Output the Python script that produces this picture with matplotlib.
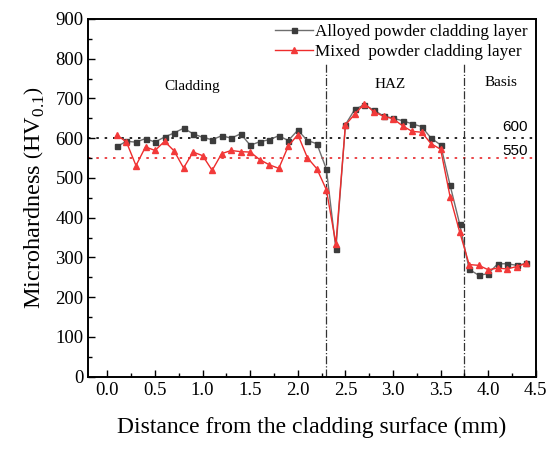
import numpy as np
import matplotlib
matplotlib.use("Agg")
import matplotlib.pyplot as plt
from matplotlib.ticker import MultipleLocator

# measured microhardness profiles, sampled every 0.1 mm from the surface
depth = np.round(np.arange(0.1, 4.45, 0.1), 2)
alloyed = [579, 592, 590, 599, 590, 603, 613, 625, 611, 602,
           596, 606, 600, 611, 582, 591, 596, 606, 594, 620,
           594, 586, 522, 321, 634, 673, 684, 670, 656, 650,
           644, 636, 629, 600, 583, 481, 384, 270, 255, 259,
           284, 284, 280, 285]
mixed = [608, 590, 531, 578, 569, 592, 568, 525, 565, 556,
         519, 561, 569, 566, 565, 546, 533, 524, 580, 609,
         551, 523, 470, 334, 633, 661, 687, 666, 655, 649,
         631, 617, 615, 586, 572, 452, 364, 282, 280, 269,
         273, 271, 277, 285]

zone_bounds = [2.3, 3.75]
zone_names = ["Cladding", "HAZ", "Basis"]
zone_label_x = [0.89, 2.97, 4.13]
zone_label_y = [729, 734, 740]
ref_levels = [600, 550]
ref_colors = ["black", "#e8262a"]
ref_label_y = [628, 568]

serif = ["Liberation Serif", "DejaVu Serif"]
plt.rcParams["font.family"] = serif
plt.rcParams["mathtext.fontset"] = "custom"
plt.rcParams["mathtext.rm"] = "Liberation Serif"

fig = plt.figure(figsize=(5.49, 4.5), dpi=100)
ax = fig.add_axes([0.161, 0.163, 0.815, 0.795])

ax.plot(depth, alloyed, color="#6e6e6e", lw=1.0, marker="s", ms=3.6,
        mfc="#3c3c3c", mec="#3c3c3c", label="Alloyed powder cladding layer", zorder=3)
ax.plot(depth, mixed, color="#ee2c2c", lw=1.0, marker="^", ms=5,
        mfc="#f23a3a", mec="#f23a3a", label="Mixed  powder cladding layer", zorder=4)

# reference hardness levels
for lvl, c, ty in zip(ref_levels, ref_colors, ref_label_y):
    ax.axhline(lvl, color=c, ls=(0, (1.5, 3.5)), lw=1.2, zorder=1)
    ax.text(4.28, ty, str(lvl), fontsize=11, family="Liberation Sans",
            ha="center", va="center")

# zone boundaries
for xb in zone_bounds:
    ax.plot([xb, xb], [0, 790], color="#333333", ls="-.", lw=0.9, zorder=1)

for name, lx, ly in zip(zone_names, zone_label_x, zone_label_y):
    ax.text(lx, ly, name, fontsize=11, ha="center", va="center")

ax.set_xlim(-0.2, 4.5)
ax.set_ylim(0, 900)
ax.xaxis.set_major_locator(MultipleLocator(0.5))
ax.xaxis.set_minor_locator(MultipleLocator(0.25))
ax.yaxis.set_major_locator(MultipleLocator(100))
ax.yaxis.set_minor_locator(MultipleLocator(50))
ax.xaxis.set_major_formatter(matplotlib.ticker.FormatStrFormatter("%.1f"))
ax.tick_params(which="both", direction="in", top=False, right=False,
               labelsize=13.5, width=1.0)
ax.tick_params(which="major", length=5)
ax.tick_params(which="minor", length=3)
for sp in ax.spines.values():
    sp.set_linewidth(1.4)

ax.set_xlabel("Distance from the cladding surface (mm)", fontsize=17, labelpad=13)
ax.set_ylabel(r"Microhardness $\left(\mathrm{HV}_{0.1}\right)$", fontsize=17.5, labelpad=6)

ax.legend(loc="upper right", bbox_to_anchor=(0.985, 0.99), frameon=False,
          fontsize=12.3, numpoints=1, handlelength=2.2, handletextpad=0.1,
          borderaxespad=0.0, labelspacing=0.25, borderpad=0.1)

fig.savefig("out.png", dpi=100)
